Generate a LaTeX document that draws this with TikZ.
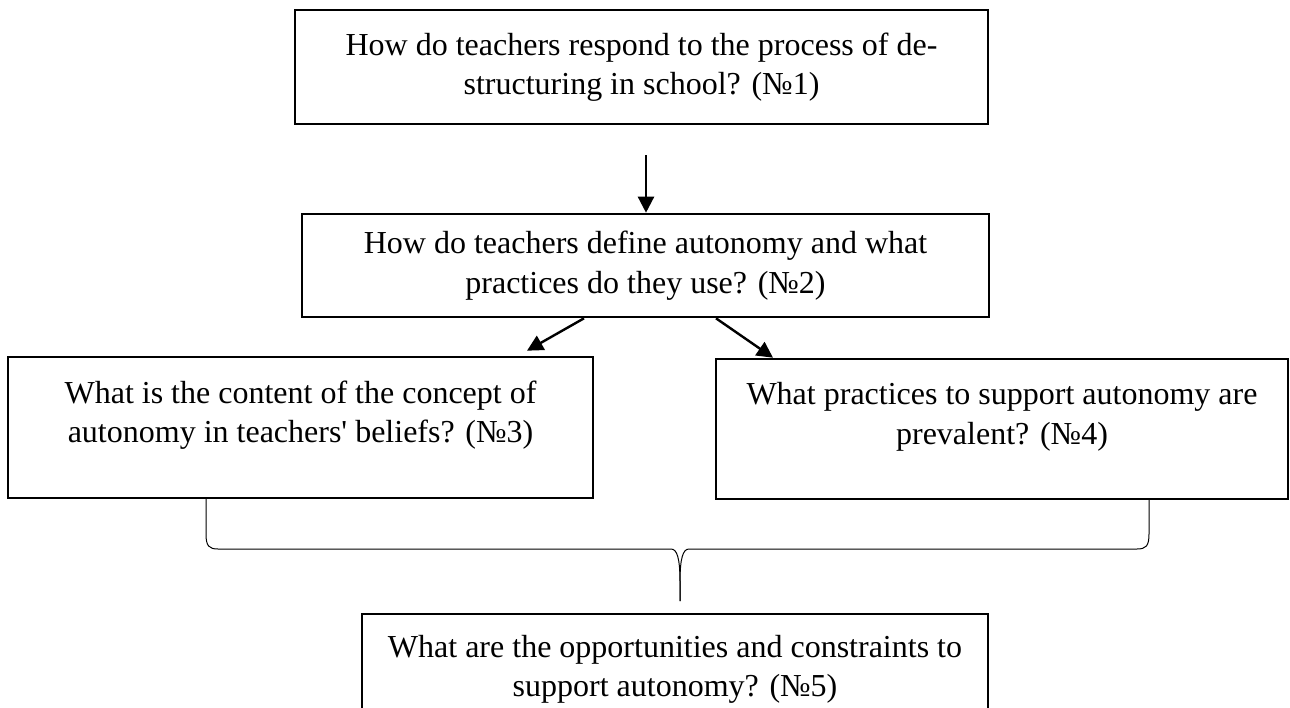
\documentclass[tikz,border=0pt]{standalone}
\usepackage{fontspec}
\setmainfont{Liberation Serif}[Ligatures=TeXOff]
\usetikzlibrary{arrows.meta,positioning}

\begin{document}
\begin{tikzpicture}[
      x=0.5pt, y=-0.5pt,
      every node/.style={font=\fontsize{16}{19.75}\selectfont},
      qbox/.style={draw, line width=1.3pt, align=center, inner sep=0pt},
      qtext/.style={align=center, inner sep=0pt, outer sep=0pt},
      arr/.style={-{Triangle[length=8pt, width=8pt]}, line width=1.2pt},
      brace/.style={line width=0.5pt}
    ]
    \clip (0,0) rectangle (1290,707);
    \fill[white] (0,0) rectangle (1290,707);
    % research questions, top to bottom
    \node[qbox, minimum width=346.5pt, minimum height=57pt] (q1) at (641.5,67)
      {How do teachers respond to the process of de-\\structuring in school? (№1)};
    \node[qbox, minimum width=343.5pt, minimum height=51.5pt] (q2) at (645.5,265.5)
      {How do teachers define autonomy and what\\practices do they use? (№2)};
    \node[qbox, minimum width=292.5pt, minimum height=70.5pt] (q3) at (300.5,427.5) {};
    \node[qtext, below=12.5pt of q3.north] (t3)
      {What is the content of the concept of\\autonomy in teachers' beliefs? (№3)};
    \node[qbox, minimum width=286pt, minimum height=70pt] (q4) at (1002,429) {};
    \node[qtext, below=12.5pt of q4.north] (t4)
      {What practices to support autonomy are\\prevalent? (№4)};
    \node[qbox, minimum width=313pt, minimum height=55.5pt] (q5) at (675,669.5)
      {What are the opportunities and constraints to\\support autonomy? (№5)};
    % arrows
    \coordinate (a1) at (646,155);
    \draw[arr] (a1) -- (a1 |- q2.north);
    \draw[arr] ([xshift=-30.75pt]q2.south) -- ([xshift=113.25pt, yshift=2.5pt]q3.north);
    \draw[arr] ([xshift=35.25pt]q2.south) -- ([xshift=-114.5pt]q4.north);
    % brace joining (3) and (4)
    \coordinate (bl) at (206,498);
    \coordinate (br) at (1149,499);
    \coordinate (tip) at (680,601);
    \draw[brace] (bl) -- (206,534) .. controls (206,546) and (209,549) .. (218,549)
      -- (671,549) .. controls (677,549) and (680,558) .. (680,582) -- (tip);
    \draw[brace] (tip) -- (680,582) .. controls (680,558) and (683,549) .. (689,549)
      -- (1137,549) .. controls (1146,549) and (1149,546) .. (1149,534) -- (br);
  \end{tikzpicture}
\end{document}
